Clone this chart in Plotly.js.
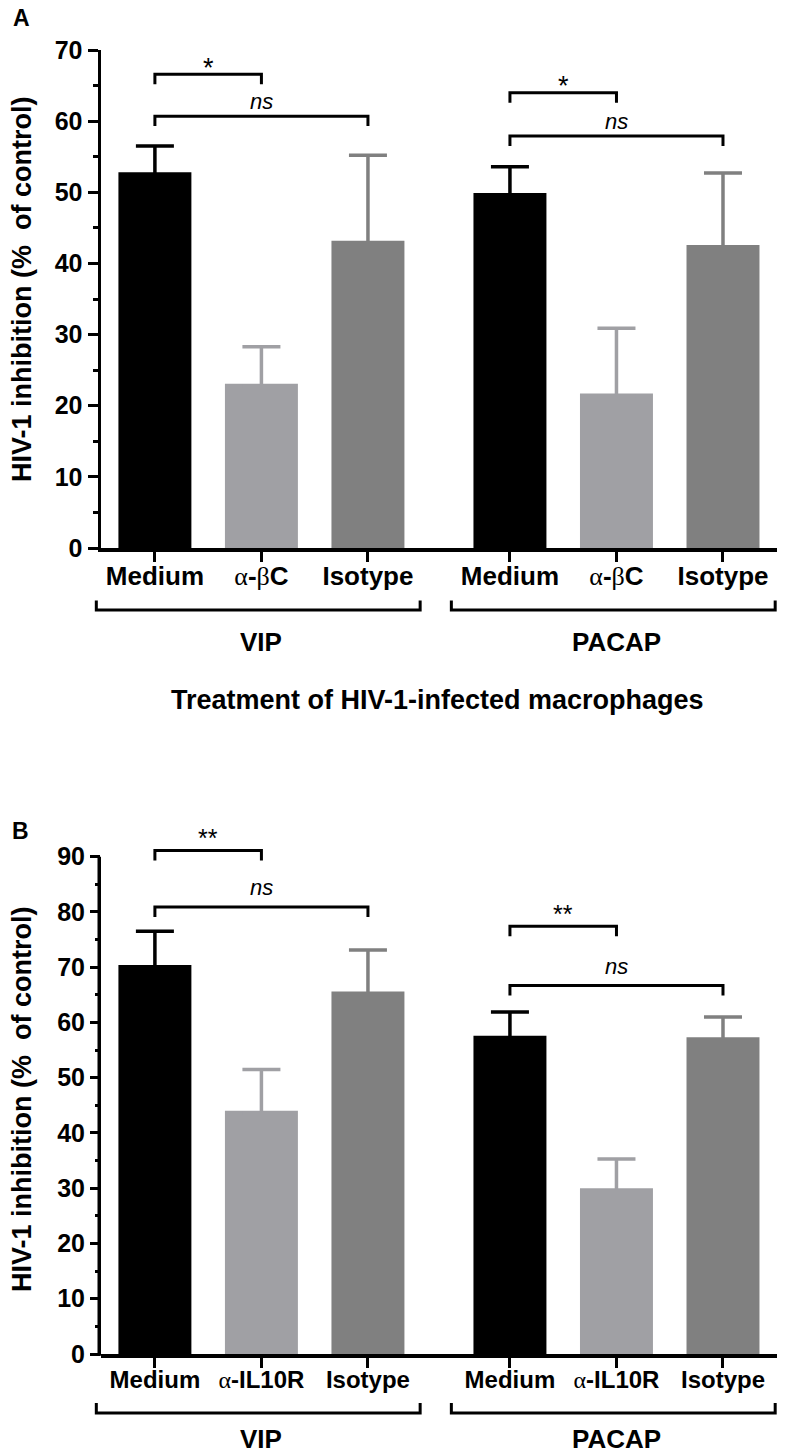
<!DOCTYPE html>
<html><head><meta charset="utf-8">
<script src="https://cdn.plot.ly/plotly-3.0.1.min.js"></script>
<style>html,body{margin:0;padding:0;background:#fff;}#chart{width:785px;height:1455px;}</style>
</head><body><div id="chart"></div>
<script>
// ---------- data ----------
const groups = ['VIP', 'PACAP'];
const treatmentsA = ['Medium', '<span style="font-family:Liberation Serif;font-weight:normal">α</span>-<span style="font-family:Liberation Serif;font-weight:normal">β</span>C', 'Isotype'];
const treatmentsB = ['Medium', '<span style="font-family:Liberation Serif;font-weight:normal">α</span>-IL10R', 'Isotype'];

// Panel A: HIV-1 inhibition (% of control), [VIP, PACAP]
const meanA_medium = [52.8, 49.9];
const meanA_abc    = [23.1, 21.7];
const meanA_iso    = [43.2, 42.6];
const semA_medium  = [3.7, 3.7];
const semA_abc     = [5.2, 9.2];
const semA_iso     = [12.0, 10.1];

// Panel B
const meanB_medium = [70.4, 57.6];
const meanB_il10r  = [44.0, 30.0];
const meanB_iso    = [65.6, 57.3];
const semB_medium  = [6.1, 4.3];
const semB_il10r   = [7.5, 5.3];
const semB_iso     = [7.5, 3.7];

// significance brackets: group index, from treatment, to treatment, level, label
const sigA_group = [0, 0, 1, 1];
const sigA_from  = [0, 0, 0, 0];
const sigA_to    = [1, 2, 1, 2];
const sigA_level = [66.6, 60.7, 64.0, 57.9];
const sigA_label = ['*', 'ns', '*', 'ns'];

const sigB_group = [0, 0, 1, 1];
const sigB_from  = [0, 0, 0, 0];
const sigB_to    = [1, 2, 1, 2];
const sigB_level = [91.1, 80.9, 77.4, 66.7];
const sigB_label = ['**', 'ns', '**', 'ns'];

const yTicksA = [0, 10, 20, 30, 40, 50, 60, 70];
const yTicksB = [0, 10, 20, 30, 40, 50, 60, 70, 80, 90];

// ---------- style / layout ----------
const W = 785, H = 1455;
const mL = 101, mR = 8;
const plotW = W - mL - mR;
const FONT = 'Liberation Sans, Arial, sans-serif';
const colors = ['#000000', '#a0a0a4', '#808080'];
const GROUP_STEP = 3.333;
const BAR_W = 0.685;
const xRange = [-0.506, 5.84];
const yRangeA = [0, 70];
const yRangeB = [0, 93];
const domA = [1 - 548 / H, 1 - 50 / H];
const domB = [1 - 1354 / H, 1 - 840.1 / H];

function pos(g, i) { return g * GROUP_STEP + i; }
function xToPaper(x) { return (x - xRange[0]) / (xRange[1] - xRange[0]); }
function yToPaper(v, rng, dom) { return dom[0] + (v - rng[0]) / (rng[1] - rng[0]) * (dom[1] - dom[0]); }
function pxToPaperY(px) { return 1 - px / H; }
function pxToPaperX(px) { return (px - mL) / plotW; }
// pixels -> data units on a y axis (used to tuck the hidden lower error cap inside the bar)
function pxToUnits(px, rng, dom) { return px * (rng[1] - rng[0]) / ((dom[1] - dom[0]) * H); }

const traces = [];
function addBars(means, sems, xa, ya, rng, dom) {
  const tuck = pxToUnits(2.5, rng, dom);
  means.forEach((m, t) => {
    traces.push({
      type: 'bar',
      x: groups.map((_, g) => pos(g, t)),
      y: m,
      width: BAR_W,
      xaxis: xa, yaxis: ya,
      marker: { color: colors[t], line: { width: 0 } },
      error_y: {
        type: 'data', symmetric: false,
        array: sems[t], arrayminus: sems[t].map(() => tuck),
        color: colors[t], thickness: 3.5, width: 19
      },
      showlegend: false, hoverinfo: 'skip'
    });
  });
}
addBars([meanA_medium, meanA_abc, meanA_iso], [semA_medium, semA_abc, semA_iso], 'x', 'y', yRangeA, domA);
addBars([meanB_medium, meanB_il10r, meanB_iso], [semB_medium, semB_il10r, semB_iso], 'x2', 'y2', yRangeB, domB);

const tickvals = [];
groups.forEach((_, g) => [0, 1, 2].forEach(i => tickvals.push(pos(g, i))));

function xAxis(ticktext, anchor, size) {
  return {
    domain: [0, 1], range: xRange, anchor: anchor,
    showline: true, linewidth: 3.5, linecolor: '#000',
    ticks: 'outside', ticklen: 10, tickwidth: 3, tickcolor: '#000',
    ticklabelstandoff: -8,
    tickmode: 'array', tickvals: tickvals,
    ticktext: ticktext.concat(ticktext),
    tickfont: { family: FONT, size: size, color: '#000', weight: 'bold' },
    showgrid: false, zeroline: false, fixedrange: true
  };
}
function yAxis(dom, rng, ticks, anchor, showline) {
  return {
    domain: dom, range: rng, anchor: anchor,
    showline: showline, linewidth: 3.5, linecolor: '#000',
    ticks: 'outside', ticklen: 10, tickwidth: 3, tickcolor: '#000',
    tickmode: 'array', tickvals: ticks,
    tickfont: { family: FONT, size: 25, color: '#000', weight: 'bold' },
    minor: { tickmode: 'linear', tick0: 0, dtick: 5, ticks: 'outside', ticklen: 5, tickwidth: 3, tickcolor: '#000', showgrid: false },
    showgrid: false, zeroline: false, fixedrange: true
  };
}

const shapes = [];
const annotations = [];

function addSig(gArr, fArr, tArr, lvl, lab, xa, ya, drop, shifts, starSize) {
  gArr.forEach((g, k) => {
    const x0 = pos(g, fArr[k]), x1 = pos(g, tArr[k]);
    const y = lvl[k], ye = y - drop;
    shapes.push({
      type: 'path', xref: xa, yref: ya,
      path: `M ${x0},${ye} L ${x0},${y} L ${x1},${y} L ${x1},${ye}`,
      line: { color: '#000', width: 3 }
    });
    const isNs = lab[k] === 'ns';
    annotations.push({
      xref: xa, yref: ya, x: (x0 + x1) / 2, y: y,
      text: lab[k], showarrow: false, yanchor: 'middle',
      yshift: isNs ? shifts[1] : shifts[0],
      font: { family: FONT, size: isNs ? 22 : starSize, color: '#000', style: isNs ? 'italic' : 'normal' }
    });
  });
}
addSig(sigA_group, sigA_from, sigA_to, sigA_level, sigA_label, 'x', 'y', 1.4, [6.5, 15], 27);
addSig(sigB_group, sigB_from, sigB_to, sigB_level, sigB_label, 'x2', 'y2', 1.8, [12.5, 19], 25);

// group brackets under the x axes
function addGroupBrackets(xa, lineY, endY, labelY) {
  groups.forEach((name, g) => {
    const x0 = xToPaper(pos(g, 0) - 0.55), x1 = xToPaper(pos(g, 2) + 0.49);
    const y = pxToPaperY(lineY), ye = pxToPaperY(endY);
    shapes.push({
      type: 'path', xref: 'paper', yref: 'paper',
      path: `M ${x0},${ye} L ${x0},${y} L ${x1},${y} L ${x1},${ye}`,
      line: { color: '#000', width: 3 }
    });
    annotations.push({
      xref: xa, yref: 'paper', x: pos(g, 1), y: pxToPaperY(labelY),
      text: name, showarrow: false, yanchor: 'middle', xanchor: 'center',
      font: { family: FONT, size: 26, color: '#000', weight: 'bold' }
    });
  });
}
addGroupBrackets('x', 610, 600.5, 642);
addGroupBrackets('x2', 1413, 1403, 1439);

// panel B y-axis line (stops at 90, brackets reach above)
shapes.push({
  type: 'line', xref: 'paper', yref: 'paper',
  x0: -1.75 / plotW, x1: -1.75 / plotW,
  y0: yToPaper(0, yRangeB, domB) - 1.75 / H, y1: yToPaper(90, yRangeB, domB),
  line: { color: '#000', width: 3.5 }
});

// titles
const yTitle = 'HIV-1 inhibition (%\u00a0 of control)';
annotations.push(
  { xref: 'paper', yref: 'paper', x: pxToPaperX(22), y: pxToPaperY(290), text: yTitle, textangle: -90, showarrow: false,
    xanchor: 'center', yanchor: 'middle', font: { family: FONT, size: 27, color: '#000', weight: 'bold' } },
  { xref: 'paper', yref: 'paper', x: pxToPaperX(22), y: pxToPaperY(1100), text: yTitle, textangle: -90, showarrow: false,
    xanchor: 'center', yanchor: 'middle', font: { family: FONT, size: 27, color: '#000', weight: 'bold' } },
  { xref: 'paper', yref: 'paper', x: pxToPaperX(437), y: pxToPaperY(700), text: 'Treatment of HIV-1-infected macrophages', showarrow: false,
    xanchor: 'center', yanchor: 'middle', font: { family: FONT, size: 27, color: '#000', weight: 'bold' } },
  { xref: 'paper', yref: 'paper', x: pxToPaperX(21), y: pxToPaperY(18), text: 'A', showarrow: false,
    xanchor: 'center', yanchor: 'middle', font: { family: FONT, size: 23, color: '#000', weight: 'bold' } },
  { xref: 'paper', yref: 'paper', x: pxToPaperX(20), y: pxToPaperY(831), text: 'B', showarrow: false,
    xanchor: 'center', yanchor: 'middle', font: { family: FONT, size: 23, color: '#000', weight: 'bold' } }
);

const layout = {
  width: W, height: H,
  margin: { l: mL, r: mR, t: 0, b: 0 },
  paper_bgcolor: '#fff', plot_bgcolor: '#fff',
  barmode: 'overlay', showlegend: false,
  xaxis: xAxis(treatmentsA, 'y', 26),
  yaxis: yAxis(domA, yRangeA, yTicksA, 'x', true),
  xaxis2: xAxis(treatmentsB, 'y2', 24),
  yaxis2: yAxis(domB, yRangeB, yTicksB, 'x2', false),
  shapes: shapes,
  annotations: annotations
};

Plotly.newPlot('chart', traces, layout, { staticPlot: true, displayModeBar: false });
</script>
</body></html>
